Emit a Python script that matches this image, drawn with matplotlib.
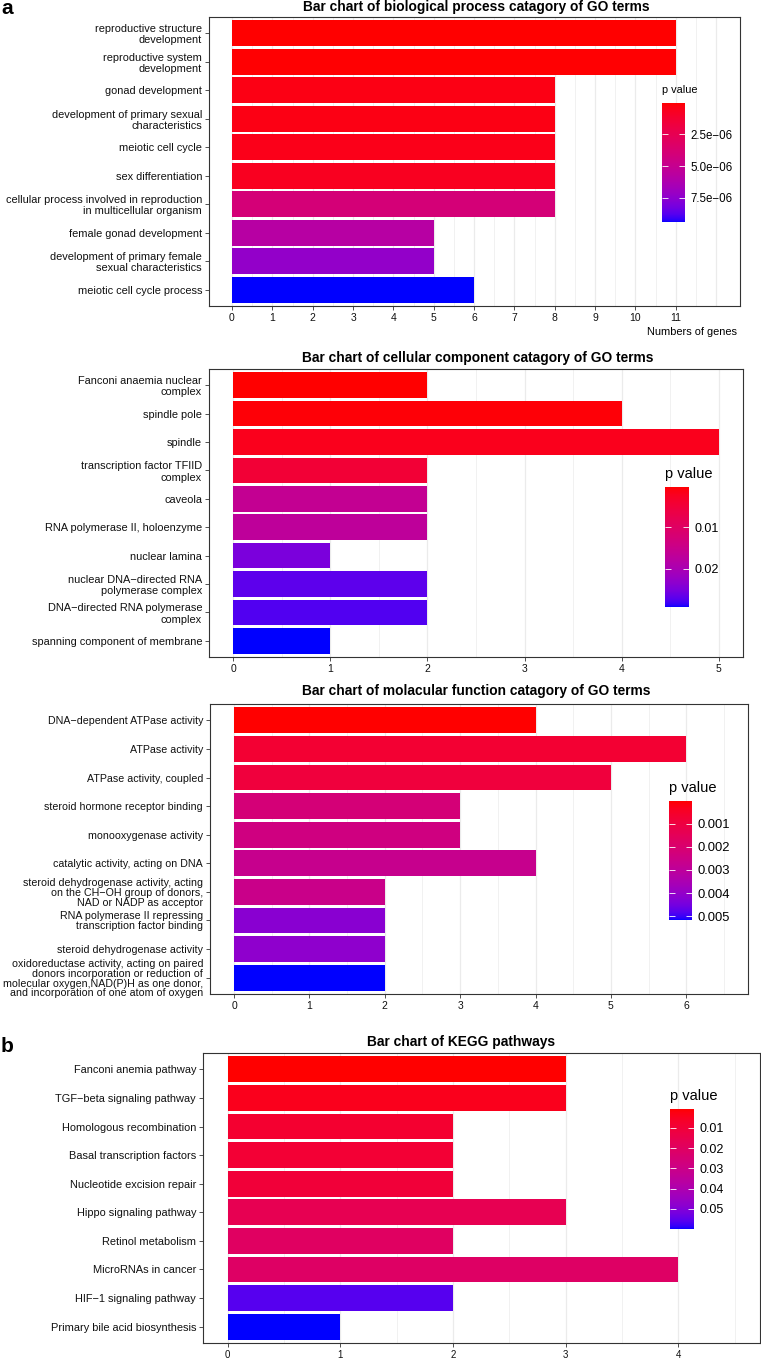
import numpy as np
import matplotlib
matplotlib.use("Agg")
from matplotlib import pyplot as plt
from matplotlib.colors import ListedColormap, Normalize
from matplotlib.cm import ScalarMappable

plt.rcParams['font.family'] = ['Liberation Sans', 'DejaVu Sans']

W, H = 761, 1360

# ---- data ----
bp_terms = ["reproductive structure\ndevelopment", "reproductive system\ndevelopment",
            "gonad development", "development of primary sexual\ncharacteristics",
            "meiotic cell cycle", "sex differentiation",
            "cellular process involved in reproduction\nin multicellular organism",
            "female gonad development", "development of primary female\nsexual characteristics",
            "meiotic cell cycle process"]
bp_genes = [11, 11, 8, 8, 8, 8, 8, 5, 5, 6]
bp_p = [5e-8, 1e-7, 4e-7, 4e-7, 5e-7, 7e-7, 4.0e-6, 5.8e-6, 7.3e-6, 9.4e-6]

cc_terms = ["Fanconi anaemia nuclear\ncomplex", "spindle pole", "spindle",
            "transcription factor TFIID\ncomplex", "caveola", "RNA polymerase II, holoenzyme",
            "nuclear lamina", "nuclear DNA\u2212directed RNA\npolymerase complex",
            "DNA\u2212directed RNA polymerase\ncomplex", "spanning component of membrane"]
cc_genes = [2, 4, 5, 2, 2, 2, 1, 2, 2, 1]
cc_p = [2e-4, 6e-4, 1.8e-3, 4.5e-3, 1.6e-2, 1.7e-2, 2.5e-2, 2.7e-2, 2.75e-2, 2.93e-2]

mf_terms = ["DNA\u2212dependent ATPase activity", "ATPase activity", "ATPase activity, coupled",
            "steroid hormone receptor binding", "monooxygenase activity",
            "catalytic activity, acting on DNA",
            "steroid dehydrogenase activity, acting\non the CH\u2212OH group of donors,\nNAD or NADP as acceptor",
            "RNA polymerase II repressing\ntranscription factor binding",
            "steroid dehydrogenase activity",
            "oxidoreductase activity, acting on paired\ndonors incorporation or reduction of\n"
            "molecular oxygen,NAD(P)H as one donor,\nand incorporation of one atom of oxygen"]
mf_genes = [4, 6, 5, 3, 3, 4, 2, 2, 2, 2]
mf_p = [1e-5, 7e-4, 9e-4, 2.2e-3, 2.4e-3, 2.7e-3, 2.6e-3, 4.2e-3, 4.1e-3, 5.17e-3]

kegg_terms = ["Fanconi anemia pathway", "TGF\u2212beta signaling pathway", "Homologous recombination",
              "Basal transcription factors", "Nucleotide excision repair", "Hippo signaling pathway",
              "Retinol metabolism", "MicroRNAs in cancer", "HIF\u22121 signaling pathway",
              "Primary bile acid biosynthesis"]
kegg_genes = [3, 3, 2, 2, 2, 3, 2, 4, 2, 1]
kegg_p = [6e-4, 4e-3, 8e-3, 9e-3, 1e-2, 1.6e-2, 2e-2, 2.1e-2, 5.6e-2, 6e-2]


# red -> blue gradient interpolated in Lab space (like ggplot's scale_fill_gradient)
def srgb_to_lab(rgb):
    rgb = np.asarray(rgb, float)
    lin = np.where(rgb <= 0.04045, rgb / 12.92, ((rgb + 0.055) / 1.055) ** 2.4)
    M = np.array([[0.4124, 0.3576, 0.1805], [0.2126, 0.7152, 0.0722], [0.0193, 0.1192, 0.9505]])
    xyz = M @ lin / np.array([0.95047, 1.0, 1.08883])
    f = np.where(xyz > 0.008856, np.cbrt(xyz), 7.787 * xyz + 16 / 116)
    return np.array([116 * f[1] - 16, 500 * (f[0] - f[1]), 200 * (f[1] - f[2])])


def lab_to_srgb(lab):
    L, a, b = lab
    fy = (L + 16) / 116
    fx = fy + a / 500
    fz = fy - b / 200
    f = np.array([fx, fy, fz])
    xyz = np.where(f ** 3 > 0.008856, f ** 3, (f - 16 / 116) / 7.787) * np.array([0.95047, 1.0, 1.08883])
    Minv = np.array([[3.2406, -1.5372, -0.4986], [-0.9689, 1.8758, 0.0415], [0.0557, -0.2040, 1.0570]])
    lin = Minv @ xyz
    lin = np.clip(lin, 0, 1)
    rgb = np.where(lin <= 0.0031308, 12.92 * lin, 1.055 * lin ** (1 / 2.4) - 0.055)
    return np.clip(rgb, 0, 1)


lab_lo = srgb_to_lab([1, 0, 0])
lab_hi = srgb_to_lab([0, 0, 1])
cmap = ListedColormap([lab_to_srgb(lab_lo + t * (lab_hi - lab_lo)) for t in np.linspace(0, 1, 256)])


def px_box(l, t, r, b):
    return [l / W, 1 - b / H, (r - l) / W, (b - t) / H]


fig = plt.figure(figsize=(W / 100, H / 100), dpi=100)


def draw_panel(box, title, title_xy, terms, genes, pvals, xlim, xticks, grid_max,
               cbar_box, cbar_ticks, cbar_labels, legend_size, cbar_label_size,
               label_size, tick_size, linesp):
    ax = fig.add_axes(px_box(*box))
    norm = Normalize(vmin=min(pvals), vmax=max(pvals))
    y = np.arange(len(terms))
    for g in np.arange(0, grid_max + 0.01, 0.5):
        major = float(g).is_integer()
        ax.axvline(g, color='#ebebeb', lw=0.9 if major else 0.5, zorder=0)
    ax.barh(y, genes, height=0.9, color=cmap(norm(pvals)), zorder=2)
    ax.set_xlim(*xlim)
    ax.set_ylim(len(terms) - 0.43, -0.57)
    ax.set_yticks(y)
    ax.set_yticklabels(terms, fontsize=label_size, color='#111111', linespacing=linesp)
    ax.set_xticks(xticks)
    ax.set_xticklabels([str(t) for t in xticks], fontsize=tick_size, color='#111111')
    ax.tick_params(length=3, width=0.6, color='#333333', pad=2)
    for s in ax.spines.values():
        s.set_color('#333333')
        s.set_linewidth(0.8)
    fig.text(title_xy[0] / W, 1 - title_xy[1] / H, title, ha='center', va='center',
             fontsize=9.9, fontweight='bold')

    cax = fig.add_axes(px_box(*cbar_box))
    cb = fig.colorbar(ScalarMappable(norm=norm, cmap=cmap), cax=cax)
    cb.outline.set_visible(False)
    cax.invert_yaxis()
    cb.set_ticks(cbar_ticks)
    cb.set_ticklabels(cbar_labels)
    cax.tick_params(axis='y', which='both', direction='in', length=4.5, width=0.6,
                    colors='white', labelcolor='black', labelsize=cbar_label_size,
                    left=True, right=True, pad=4)
    cax.minorticks_off()
    l, t, r, b = cbar_box
    fig.text(l / W, 1 - (t - 13) / H, "p value", ha='left', va='center', fontsize=legend_size)
    return ax


draw_panel((209, 17, 740, 306), "Bar chart of biological process catagory of GO terms", (476, 7),
           bp_terms, bp_genes, bp_p, (-0.57, 12.59), list(range(12)), 12,
           (662, 103, 685, 222), [2.5e-6, 5.0e-6, 7.5e-6],
           ["2.5e\u221206", "5.0e\u221206", "7.5e\u221206"], 7.8, 8.3, 7.9, 7.5, 1.15)
fig.text(737 / W, 1 - 332 / H, "Numbers of genes", ha='right', va='center', fontsize=7.9)

draw_panel((209, 369, 743, 657), "Bar chart of cellular component catagory of GO terms", (478, 358),
           cc_terms, cc_genes, cc_p, (-0.25, 5.25), list(range(6)), 5,
           (665, 487, 689, 607), [0.01, 0.02], ["0.01", "0.02"], 10.5, 9.0, 7.9, 7.5, 1.15)

draw_panel((210, 704, 748, 994), "Bar chart of molacular function catagory of GO terms", (476, 691),
           mf_terms, mf_genes, mf_p, (-0.32, 6.82), list(range(7)), 6.5,
           (669, 801, 692, 920), [0.001, 0.002, 0.003, 0.004, 0.005],
           ["0.001", "0.002", "0.003", "0.004", "0.005"], 10.5, 9.4, 7.7, 7.5, 0.98)

draw_panel((203, 1053, 759.5, 1343), "Bar chart of KEGG pathways", (461, 1042),
           kegg_terms, kegg_genes, kegg_p, (-0.22, 4.72), list(range(5)), 4.5,
           (670, 1109, 694, 1229), [0.01, 0.02, 0.03, 0.04, 0.05],
           ["0.01", "0.02", "0.03", "0.04", "0.05"], 10.5, 9.0, 7.9, 7.0, 1.15)

fig.text(1 / W, 1 - 14 / H, "a", ha='left', va='baseline', fontsize=15, fontweight='bold')
fig.text(1 / W, 1 - 1052 / H, "b", ha='left', va='baseline', fontsize=15, fontweight='bold')

fig.savefig("out.png", dpi=100)
